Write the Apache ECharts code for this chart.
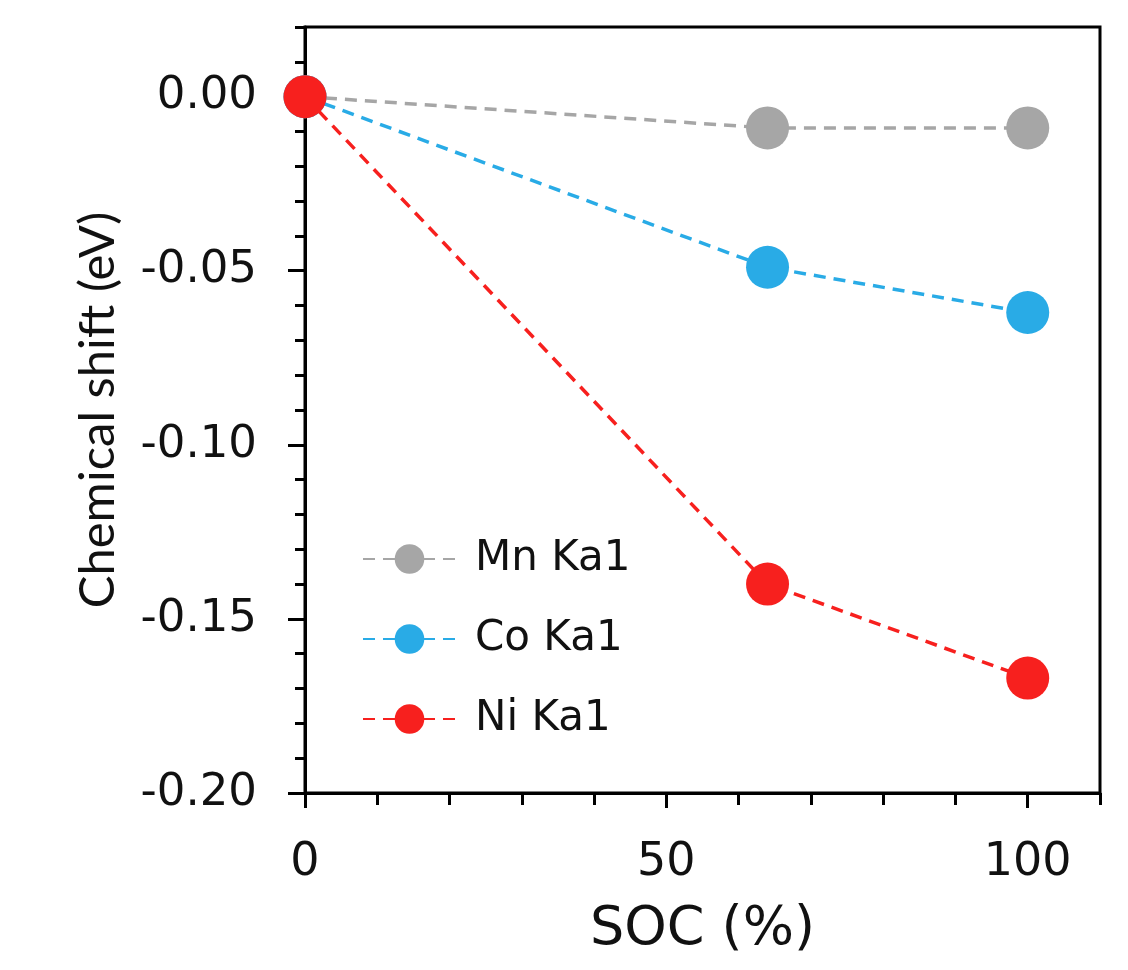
<!DOCTYPE html>
<html>
<head>
<meta charset="utf-8">
<script src="https://cdn.jsdelivr.net/npm/echarts@6/dist/echarts.min.js"></script>
<style>
  html, body { margin: 0; padding: 0; background: #fff; }
  #chart { width: 1128px; height: 970px; }
</style>
</head>
<body>
<div id="chart"></div>
<script>
// SOC (%) of each measurement
var soc = [0, 64, 100]
// chemical shift (eV) per element
var mnShift = [0, -0.009, -0.009]
var coShift = [0, -0.049, -0.062]
var niShift = [0, -0.140, -0.167]
var seriesNames = ['Mn Ka1', 'Co Ka1', 'Ni Ka1']
var seriesColors = ['#a6a6a6', '#29abe6', '#f7201e']

var gridLeft = 305, gridRight = 28, gridTop = 27, gridBottom = 177
var gridW = 1128 - gridLeft - gridRight
var gridH = 970 - gridTop - gridBottom

var chart = echarts.init(document.getElementById('chart'))

function pairs(ys) {
  return soc.map(function (x, i) { return [x, ys[i]] })
}

var allY = [mnShift, coShift, niShift]
var series = allY.map(function (ys, i) {
  return {
    name: seriesNames[i],
    type: 'line',
    data: pairs(ys),
    symbol: 'circle',
    symbolSize: 43,
    color: seriesColors[i],
    itemStyle: { color: seriesColors[i] },
    lineStyle: { color: seriesColors[i], width: 3.5, type: [12, 8] },
    z: 2 + i
  }
})

var option = {
  animation: false,
  backgroundColor: '#fff',
  grid: {
    left: gridLeft, right: gridRight, top: gridTop, bottom: gridBottom,
    show: true, borderColor: '#000', borderWidth: 3,
    containLabel: false, outerBoundsMode: 'none'
  },
  legend: {
    orient: 'vertical',
    left: 357, top: 533,
    itemWidth: 93, itemHeight: 37, itemGap: 38,
    data: seriesNames,
    textStyle: {
      fontFamily: 'DejaVu Sans', fontSize: 42, color: '#111',
      lineHeight: 40, padding: [0, 0, 0, 14]
    }
  },
  xAxis: [{
    type: 'value', position: 'bottom',
    min: 0, max: 110, interval: 50,
    name: 'SOC (%)', nameLocation: 'middle', nameGap: 110,
    nameTextStyle: { fontFamily: 'DejaVu Sans', fontSize: 54, color: '#111' },
    axisLine: { onZero: false, lineStyle: { color: '#000', width: 3 } },
    axisTick: { length: 15, lineStyle: { color: '#000', width: 3 } },
    axisLabel: { margin: 47, showMaxLabel: false, fontFamily: 'DejaVu Sans', fontSize: 46, color: '#111' },
    splitLine: { show: false }
  }, {
    // minor ticks every 10, pushed down onto the bottom edge
    type: 'value', position: 'top', offset: -gridH,
    min: 0, max: 110, interval: 10,
    axisLine: { show: false, onZero: false },
    axisTick: { inside: true, length: 12, lineStyle: { color: '#000', width: 3 } },
    axisLabel: { show: false },
    splitLine: { show: false }
  }],
  yAxis: [{
    type: 'value', position: 'left',
    min: -0.2, max: 0.02, interval: 0.05,
    name: 'Chemical shift (eV)', nameLocation: 'middle', nameRotate: 90, nameGap: 182,
    nameTextStyle: { fontFamily: 'Lato', fontSize: 49, color: '#111' },
    axisLine: { onZero: false, lineStyle: { color: '#000', width: 3 } },
    axisTick: { length: 17, lineStyle: { color: '#000', width: 3 } },
    axisLabel: {
      margin: 48, showMaxLabel: false, fontFamily: 'DejaVu Sans', fontSize: 45, color: '#111',
      formatter: function (v) { return v.toFixed(2) }
    },
    splitLine: { show: false }
  }, {
    // minor ticks every 0.01, moved back onto the left edge
    type: 'value', position: 'right', offset: -gridW,
    min: -0.2, max: 0.02, interval: 0.01,
    axisLine: { show: false, onZero: false },
    axisTick: { inside: true, length: 10, lineStyle: { color: '#000', width: 3 } },
    axisLabel: { show: false },
    splitLine: { show: false }
  }],
  series: series
}
chart.setOption(option)
</script>
</body>
</html>
